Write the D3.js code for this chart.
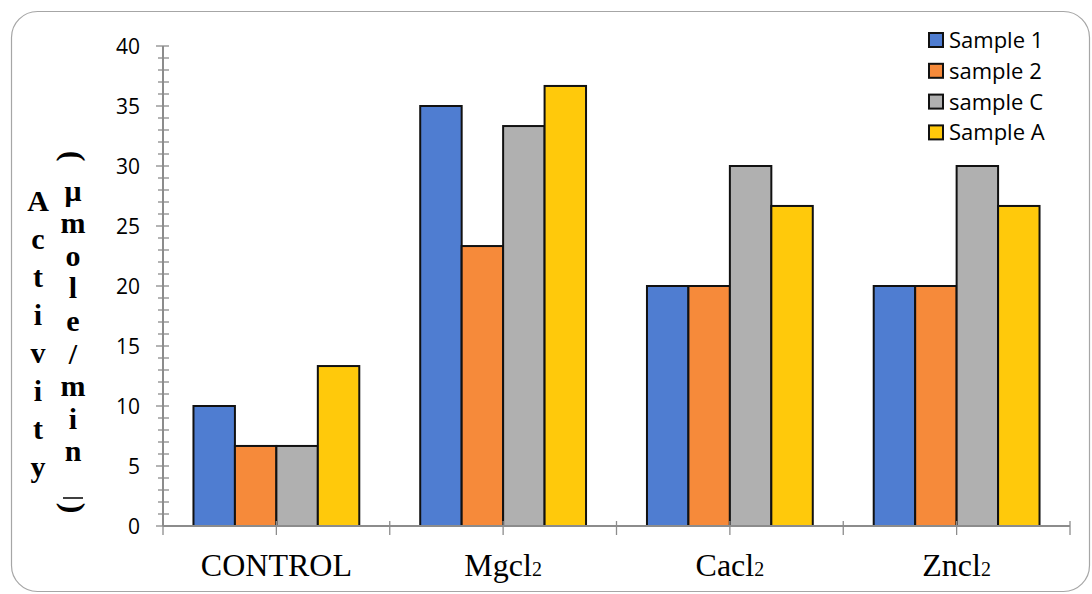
<!DOCTYPE html>
<html>
<head>
<meta charset="utf-8">
<script src="https://cdn.jsdelivr.net/npm/d3@7"></script>
<style>
  html, body { margin: 0; padding: 0; background: #fff; }
  svg { display: block; }
</style>
</head>
<body>
<svg id="chart" width="1092" height="594"></svg>
<script>
// Enzyme activity (µmole/min) under different metal salts
const categories = ["CONTROL", "Mgcl\u2082", "Cacl\u2082", "Zncl\u2082"];
const seriesNames = ["Sample 1", "sample 2", "sample C", "Sample A"];
const sample1 = [10, 35, 20, 20];
const sample2 = [6.67, 23.33, 20, 20];
const sampleC = [6.67, 33.33, 30, 30];
const sampleA = [13.33, 36.67, 26.67, 26.67];
const seriesValues = [sample1, sample2, sampleC, sampleA];
const colors = ["#4F7DD1", "#F68A3A", "#B0B0B0", "#FFC90B"];
const yTicks = [0, 5, 10, 15, 20, 25, 30, 35, 40];
const yTitle = "Activity";
const yUnit = ["\u03bc", "m", "o", "l", "e", "/", "m", "i", "n"];

const svg = d3.select("#chart");

// outer frame
svg.append("rect")
  .attr("x", 11.5).attr("y", 11.5)
  .attr("width", 1078).attr("height", 580)
  .attr("rx", 26).attr("ry", 26)
  .attr("fill", "#fff").attr("stroke", "#A6A6A6").attr("stroke-width", 1.2);

const plotLeft = 163, plotRight = 1070, plotTop = 46, plotBottom = 526;

const x0 = d3.scaleBand().domain(categories).range([plotLeft, plotRight]).paddingInner(0).paddingOuter(0);
const x1 = d3.scaleBand().domain(d3.range(seriesNames.length))
  .range([0, x0.bandwidth()]).paddingInner(0).paddingOuter(0.735);
const y = d3.scaleLinear().domain([0, 40]).range([plotBottom, plotTop]);

const axisColor = "#8C8C8C";

// bars
const groups = svg.append("g").selectAll("g")
  .data(categories)
  .join("g")
  .attr("transform", d => `translate(${x0(d)},0)`);

groups.selectAll("rect")
  .data((d, i) => seriesValues.map((vals, s) => ({ s, v: vals[i] })))
  .join("rect")
  .attr("x", d => x1(d.s))
  .attr("y", d => y(d.v))
  .attr("width", x1.bandwidth())
  .attr("height", d => y(0) - y(d.v))
  .attr("fill", d => colors[d.s])
  .attr("stroke", "#111")
  .attr("stroke-width", 2);

// y axis: minor ticks every unit, labels every 5
const yAxisG = svg.append("g");
yAxisG.append("line")
  .attr("x1", plotLeft).attr("x2", plotLeft).attr("y1", plotTop).attr("y2", plotBottom)
  .attr("stroke", axisColor).attr("stroke-width", 2);
yAxisG.selectAll("line.minor")
  .data(d3.range(0, 41))
  .join("line")
  .attr("class", "minor")
  .attr("x1", d => d % 5 === 0 ? plotLeft - 7 : plotLeft - 5)
  .attr("x2", plotLeft + 6)
  .attr("y1", d => y(d)).attr("y2", d => y(d))
  .attr("stroke", axisColor).attr("stroke-width", 1.3);
yAxisG.selectAll("text")
  .data(yTicks)
  .join("text")
  .attr("x", 140)
  .attr("y", d => y(d))
  .attr("dy", "0.36em")
  .attr("text-anchor", "end")
  .attr("font-family", "'Open Sans', sans-serif")
  .attr("font-size", 21)
  .attr("fill", "#000")
  .text(d => d);

// x axis
const xAxisG = svg.append("g");
xAxisG.append("line")
  .attr("x1", plotLeft).attr("x2", plotRight).attr("y1", plotBottom).attr("y2", plotBottom)
  .attr("stroke", axisColor).attr("stroke-width", 2);
const tickXs = [];
categories.forEach(c => { tickXs.push(x0(c)); tickXs.push(x0(c) + x0.bandwidth() / 2); });
tickXs.push(plotRight);
xAxisG.selectAll("line.tick")
  .data(tickXs)
  .join("line")
  .attr("class", "tick")
  .attr("x1", d => d).attr("x2", d => d)
  .attr("y1", plotBottom - 5).attr("y2", plotBottom + 9)
  .attr("stroke", axisColor).attr("stroke-width", 1.3);

// category labels; the chemical subscript is drawn as a small baseline digit
const catLabels = xAxisG.selectAll("text")
  .data(categories)
  .join("text")
  .attr("x", d => x0(d) + x0.bandwidth() / 2)
  .attr("y", 576)
  .attr("text-anchor", "middle")
  .attr("font-family", "'Liberation Serif', 'Times New Roman', serif")
  .attr("font-size", 32)
  .attr("fill", "#000");
catLabels.each(function (d) {
  const t = d3.select(this);
  const m = d.match(/^(.*?)([\u2080-\u2089]*)$/);
  t.append("tspan").text(m[1]);
  if (m[2]) {
    const digits = m[2].split("").map(ch => String.fromCharCode(ch.charCodeAt(0) - 0x2080 + 48)).join("");
    t.append("tspan").attr("font-size", 20).text(digits);
  }
});

// y title, letters stacked vertically
const titleG = svg.append("g")
  .attr("font-family", "'Liberation Serif', 'Times New Roman', serif")
  .attr("font-weight", "bold")
  .attr("font-size", 30)
  .attr("fill", "#000")
  .attr("text-anchor", "middle");
titleG.selectAll("text.t")
  .data(yTitle.split(""))
  .join("text")
  .attr("class", "t")
  .attr("x", 38)
  .attr("y", (d, i) => 200 + i * 38.1)
  .attr("dy", "0.35em")
  .text(d => d);
titleG.selectAll("text.u")
  .data(yUnit)
  .join("text")
  .attr("class", "u")
  .attr("x", 73)
  .attr("y", (d, i) => 190 + i * 32.6)
  .attr("dy", "0.35em")
  .text(d => d);
// brackets turned on their side above and below the unit
titleG.append("g")
  .attr("transform", "translate(73,156) rotate(90)")
  .append("text")
  .attr("x", 0).attr("y", 0)
  .attr("dy", "0.3em")
  .attr("font-size", 32)
  .text("(");
titleG.append("g")
  .attr("transform", "translate(73,508) rotate(90)")
  .append("text")
  .attr("x", 0).attr("y", 0)
  .attr("dy", "0.3em")
  .attr("font-size", 32)
  .text(")");
// underline beneath the last unit letter
titleG.append("line")
  .attr("x1", 63).attr("x2", 83).attr("y1", 498).attr("y2", 498)
  .attr("stroke", "#000").attr("stroke-width", 1.5);

// legend
const legend = svg.append("g").attr("transform", "translate(929,40)");
const items = legend.selectAll("g")
  .data(seriesNames)
  .join("g")
  .attr("transform", (d, i) => `translate(0,${i * 30.8})`);
items.append("rect")
  .attr("x", 0).attr("y", -7)
  .attr("width", 14).attr("height", 14)
  .attr("fill", (d, i) => colors[i])
  .attr("stroke", "#111").attr("stroke-width", 2);
items.append("text")
  .attr("x", 20).attr("y", 0).attr("dy", "0.36em")
  .attr("font-family", "'Open Sans', sans-serif")
  .attr("font-size", 22)
  .attr("fill", "#000")
  .text(d => d);
</script>
</body>
</html>
